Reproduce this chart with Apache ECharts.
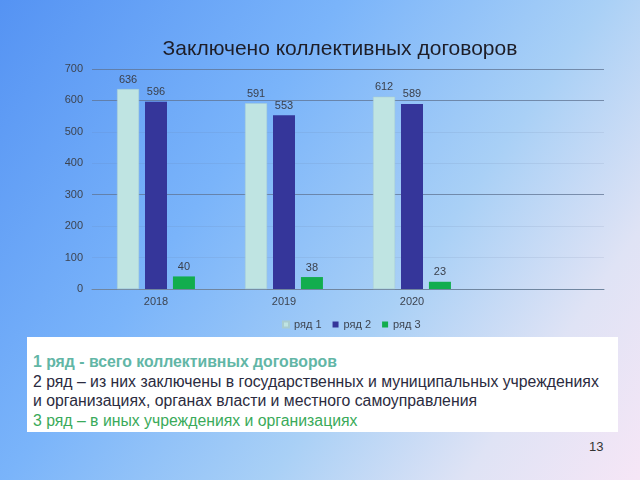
<!DOCTYPE html>
<html>
<head>
<meta charset="utf-8">
<script src="https://cdn.jsdelivr.net/npm/echarts@6/dist/echarts.min.js"></script>
<style>
html,body{margin:0;padding:0;width:640px;height:480px;overflow:hidden;}
body{background:linear-gradient(125deg,#5593f3 0%,#7ab4fa 35%,#a9d0f6 62%,#dfe3f5 82%,#f6e6f6 100%);font-family:"Liberation Sans",Arial,sans-serif;position:relative;}
#chart{position:absolute;left:0;top:0;width:640px;height:330px;}
#box{position:absolute;left:27px;top:337px;width:591px;height:95px;background:#ffffff;box-sizing:border-box;padding:15px 0 0 6px;font-size:15.8px;line-height:19.7px;color:#2b2b40;white-space:nowrap;}
#box .l1{color:#62b6a6;font-weight:bold;}
#box .l4{color:#3aaa5a;}
#page{position:absolute;left:589px;top:439px;font-size:13px;color:#333;}
</style>
</head>
<body>
<div id="chart"></div>
<div id="box">
<div class="l1">1 ряд - всего коллективных договоров</div>
<div>2 ряд – из них заключены в государственных и муниципальных учреждениях</div>
<div>и организациях, органах власти и местного самоуправления</div>
<div class="l4">3 ряд – в иных учреждениях и организациях</div>
</div>
<div id="page">13</div>
<script>
const title = "Заключено коллективных договоров";
const categories = ["2018", "2019", "2020", ""];
const seriesNames = ["ряд 1", "ряд 2", "ряд 3"];
const row1 = [636, 591, 612, null];
const row2 = [596, 553, 589, null];
const row3 = [40, 38, 23, null];
const yTicks = [0, 100, 200, 300, 400, 500, 600, 700];

const colors = ["#bfe4e2", "#35369a", "#12ad4e"];
const strong = 'rgba(95,115,145,0.75)';
const faint = 'rgba(95,115,145,0.12)';
const chart = echarts.init(document.getElementById('chart'), null, {renderer: 'canvas'});
const labelStyle = {show: true, position: 'top', distance: 4, color: '#3a3f4a', fontSize: 11, fontFamily: 'Liberation Sans'};
chart.setOption({
  backgroundColor: 'transparent',
  animation: false,
  title: {text: title, left: 335, top: 34, textAlign: 'center',
    textStyle: {fontSize: 21, fontWeight: 'normal', color: '#1e1e28', fontFamily: 'Liberation Sans'}},
  legend: {data: seriesNames, top: 314, left: 277, itemWidth: 6, itemHeight: 6, itemGap: 11, icon: 'rect',
    textStyle: {fontSize: 11, color: '#3d4450', fontFamily: 'Liberation Sans'}},
  grid: {left: 92, right: 36, top: 69, bottom: 41, containLabel: false},
  xAxis: {type: 'category', data: categories,
    axisLine: {show: true, lineStyle: {color: '#7086a0'}}, axisTick: {show: false},
    axisLabel: {color: '#3d4450', fontSize: 11, margin: 7, fontFamily: 'Liberation Sans'}},
  yAxis: {type: 'value', min: yTicks[0], max: yTicks[yTicks.length-1], interval: 100,
    axisLine: {show: false}, axisTick: {show: false},
    axisLabel: {color: '#3d4450', fontSize: 11, margin: 9, fontFamily: 'Liberation Sans'},
    splitLine: {show: true, lineStyle: {color: [strong, faint, faint, strong, faint, faint, strong, strong], width: 1}}},
  series: [
    {name: seriesNames[0], type: 'bar', data: row1, barWidth: 22, barGap: '27%',
      itemStyle: {color: colors[0], borderColor: '#a9ccd0', borderWidth: 0.5}, label: labelStyle},
    {name: seriesNames[1], type: 'bar', data: row2, barWidth: 22, barGap: '27%',
      itemStyle: {color: colors[1]}, label: labelStyle},
    {name: seriesNames[2], type: 'bar', data: row3, barWidth: 22, barGap: '27%',
      itemStyle: {color: colors[2]}, label: labelStyle}
  ]
});
</script>
</body>
</html>
